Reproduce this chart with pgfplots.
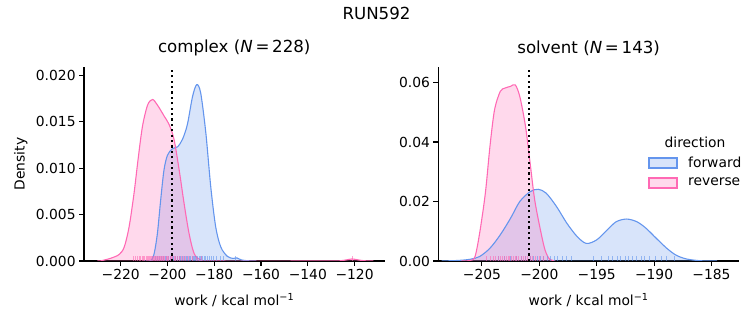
\documentclass[border=0pt]{standalone}
\usepackage{pgfplots}
\pgfplotsset{compat=1.18}
\usepackage{pgfplotstable}
\usepackage{fontspec}
\setmainfont{DejaVu Sans}
\definecolor{fwd}{HTML}{6495ED}
\definecolor{rev}{HTML}{FF69B4}

% KDE curves, complex
\pgfplotstableread{
x y
-230.0 0
-228.5 0.00002
-224.2 0.0003
-220.7 0.0007
-218.5 0.0015
-216.4 0.0037
-214.3 0.0073
-212.6 0.0109
-210.7 0.0145
-208.5 0.0168
-206.4 0.0174
-204.3 0.0168
-201.4 0.0156
-199.3 0.0147
-197.2 0.0131
-195.0 0.0098
-192.9 0.0062
-190.8 0.0030
-188.6 0.0008
-185.8 0.0001
-182.0 0
-130.0 0
-126.0 0.00003
-123.5 0.00012
-121.0 0.00022
-118.5 0.00012
-116.0 0.00003
-112.0 0
}\comprev
\pgfplotstableread{
x y
-210.0 0
-207.1 0.00005
-205.7 0.0008
-204.3 0.0030
-202.9 0.0066
-201.5 0.0098
-200.0 0.0114
-197.9 0.0121
-195.7 0.0123
-193.6 0.0131
-191.5 0.0147
-189.3 0.0177
-187.5 0.0190
-185.8 0.0181
-183.6 0.0138
-181.5 0.0080
-179.4 0.0037
-177.2 0.0015
-174.4 0.0005
-172.0 0.00028
-170.3 0.00033
-168.5 0.00012
-165.8 0.00003
-162.0 0
}\compfwd
% KDE curves, solvent
\pgfplotstableread{
x y
-206.8 0
-206.0 0.0002
-205.6 0.0015
-205.2 0.0093
-204.7 0.0228
-204.3 0.0385
-203.9 0.0508
-203.4 0.0570
-203.0 0.0581
-202.5 0.0587
-202.1 0.0592
-201.7 0.0553
-201.2 0.0452
-200.8 0.0329
-200.4 0.0205
-199.9 0.0104
-199.5 0.0037
-199.1 0.0006
-198.6 0
}\solvrev
\pgfplotstableread{
x y
-208.5 0
-207.0 0.0002
-206.0 0.0006
-205.2 0.0015
-204.3 0.0043
-203.4 0.0088
-202.5 0.0144
-201.7 0.0200
-200.8 0.0233
-200.1 0.0241
-199.4 0.0228
-198.5 0.0183
-197.6 0.0127
-196.7 0.0082
-195.9 0.0059
-195.0 0.0071
-194.1 0.0104
-193.3 0.0132
-192.4 0.0141
-191.5 0.0132
-190.7 0.0110
-189.8 0.0076
-188.9 0.0043
-188.1 0.0020
-187.2 0.0007
-186.0 0.0001
-184.5 0
}\solvfwd

\pgfplotsset{
  myaxis/.style={
    scale only axis,
    height=194bp,
    axis x line*=bottom,
    axis y line*=left,
    axis line style={line width=1.1bp, black, -},
    every tick/.style={black, line width=1.1bp},
    major tick length=4.9bp,
    tick align=outside,
    scaled y ticks=false,
    scaled x ticks=false,
    ticklabel style={font=\fontsize{13.9}{16}\selectfont},
    label style={font=\fontsize{13.9}{16}\selectfont},
    title style={font=\fontsize{16.7}{19}\selectfont, at={(axis description cs:0.5,1.067)}, anchor=center},
    xlabel style={at={(axis description cs:0.5,-0.20)}, anchor=center},
    clip=true,
  },
  kdefill/.style={draw=none, fill=#1, fill opacity=0.25, smooth, tension=0.5},
  kdeline/.style={draw=#1, line width=1.1bp, smooth, tension=0.5},
  rug/.style={draw=#1, draw opacity=0.6, line width=0.8bp, ycomb, mark=none},
}

\begin{document}
\begin{tikzpicture}
\path[use as bounding box] (0,0) rectangle (753bp,325bp);
\node[font=\fontsize{16.7}{19}\selectfont] at (376.5bp,312bp) {RUN592};

% ---------------- complex ----------------
\begin{axis}[myaxis,
  at={(84bp,64bp)}, anchor=south west, width=300.5bp,
  xmin=-235.7, xmax=-107.2, ymin=0, ymax=0.0209,
  xtick={-220,-200,-180,-160,-140,-120},
  xticklabels={−220,−200,−180,−160,−140,−120},
  ytick={0,0.005,0.01,0.015,0.02},
  yticklabels={0.000,0.005,0.010,0.015,0.020},
  title={complex (\textit{N}\,=\,228)},
  xlabel={work / kcal mol\textsuperscript{−1}},
  ylabel={Density},
  ylabel style={at={(axis description cs:-0.21,0.5)}, anchor=center, rotate=0},
]
\addplot[kdefill=fwd] table {\compfwd} \closedcycle;
\addplot[kdefill=rev] table {\comprev} \closedcycle;
\addplot[kdeline=fwd] table {\compfwd};
\addplot[kdeline=rev] table {\comprev};
% rug (forward)
\addplot[rug=fwd] coordinates {
(-206.3,0.00052)(-205.1,0.00052)(-204.2,0.00052)(-203.3,0.00052)(-202.5,0.00052)(-201.8,0.00052)(-201.0,0.00052)(-200.3,0.00052)(-199.6,0.00052)(-198.8,0.00052)(-198.1,0.00052)(-197.3,0.00052)(-196.5,0.00052)(-195.8,0.00052)(-195.0,0.00052)(-194.3,0.00052)(-193.5,0.00052)(-192.8,0.00052)(-192.0,0.00052)(-191.3,0.00052)(-190.6,0.00052)(-190.0,0.00052)(-189.4,0.00052)(-188.9,0.00052)(-188.4,0.00052)(-187.9,0.00052)(-187.5,0.00052)(-187.0,0.00052)(-186.5,0.00052)(-186.0,0.00052)(-185.5,0.00052)(-184.9,0.00052)(-184.3,0.00052)(-183.6,0.00052)(-182.9,0.00052)(-182.1,0.00052)(-181.2,0.00052)(-180.2,0.00052)(-179.0,0.00052)(-177.5,0.00052)(-175.9,0.00052)(-170.8,0.00052)};
% rug (reverse)
\addplot[rug=rev] coordinates {
(-214.6,0.00052)(-213.8,0.00052)(-212.9,0.00052)(-212.2,0.00052)(-211.5,0.00052)(-210.9,0.00052)(-210.3,0.00052)(-209.8,0.00052)(-209.2,0.00052)(-208.7,0.00052)(-208.3,0.00052)(-207.9,0.00052)(-207.4,0.00052)(-207.0,0.00052)(-206.6,0.00052)(-206.2,0.00052)(-205.8,0.00052)(-205.3,0.00052)(-204.9,0.00052)(-204.4,0.00052)(-204.0,0.00052)(-203.5,0.00052)(-203.1,0.00052)(-202.6,0.00052)(-202.1,0.00052)(-201.7,0.00052)(-201.2,0.00052)(-200.6,0.00052)(-200.1,0.00052)(-199.5,0.00052)(-198.9,0.00052)(-198.4,0.00052)(-197.8,0.00052)(-197.1,0.00052)(-196.5,0.00052)(-195.8,0.00052)(-195.0,0.00052)(-194.1,0.00052)(-193.2,0.00052)(-192.3,0.00052)(-191.0,0.00052)(-189.5,0.00052)(-187.8,0.00052)(-185.5,0.00052)(-121.0,0.00052)};
% mean line
\addplot[black, line width=2.1bp, dash pattern=on 2.1bp off 3.3bp] coordinates {(-197.9,0) (-197.9,0.0209)};
\end{axis}

% ---------------- solvent ----------------
\begin{axis}[myaxis,
  at={(438.3bp,64bp)}, anchor=south west, width=300.7bp,
  xmin=-208.8, xmax=-182.6, ymin=0, ymax=0.0652,
  xtick={-205,-200,-195,-190,-185},
  xticklabels={−205,−200,−195,−190,−185},
  ytick={0,0.02,0.04,0.06},
  yticklabels={0.00,0.02,0.04,0.06},
  title={solvent (\textit{N}\,=\,143)},
  xlabel={work / kcal mol\textsuperscript{−1}},
]
\addplot[kdefill=fwd] table {\solvfwd} \closedcycle;
\addplot[kdefill=rev] table {\solvrev} \closedcycle;
\addplot[kdeline=fwd] table {\solvfwd};
\addplot[kdeline=rev] table {\solvrev};
\addplot[rug=fwd] coordinates {
(-203.6,0.00163)(-203.0,0.00163)(-202.5,0.00163)(-202.0,0.00163)(-201.6,0.00163)(-201.2,0.00163)(-200.8,0.00163)(-200.5,0.00163)(-200.2,0.00163)(-199.9,0.00163)(-199.6,0.00163)(-199.3,0.00163)(-199.0,0.00163)(-198.7,0.00163)(-198.4,0.00163)(-198.0,0.00163)(-197.6,0.00163)(-197.2,0.00163)(-195.3,0.00163)(-194.6,0.00163)(-194.0,0.00163)(-193.6,0.00163)(-193.2,0.00163)(-192.9,0.00163)(-192.5,0.00163)(-192.2,0.00163)(-191.9,0.00163)(-191.5,0.00163)(-191.1,0.00163)(-190.8,0.00163)(-190.4,0.00163)(-189.9,0.00163)(-189.4,0.00163)(-188.9,0.00163)(-188.2,0.00163)};
\addplot[rug=rev] coordinates {
(-204.6,0.00163)(-204.3,0.00163)(-204.0,0.00163)(-203.8,0.00163)(-203.6,0.00163)(-203.4,0.00163)(-203.2,0.00163)(-203.0,0.00163)(-202.9,0.00163)(-202.7,0.00163)(-202.6,0.00163)(-202.4,0.00163)(-202.3,0.00163)(-202.1,0.00163)(-202.0,0.00163)(-201.8,0.00163)(-201.6,0.00163)(-201.4,0.00163)(-201.2,0.00163)(-201.0,0.00163)(-200.8,0.00163)(-200.6,0.00163)(-200.3,0.00163)(-200.0,0.00163)(-199.6,0.00163)};
\addplot[black, line width=2.1bp, dash pattern=on 2.1bp off 3.3bp] coordinates {(-200.9,0) (-200.9,0.0652)};
\end{axis}

% ---------------- legend ----------------
\node[font=\fontsize{13.9}{16}\selectfont, inner sep=0] at (695bp,183bp) {direction};
\filldraw[draw=fwd, line width=1.1bp, fill=fwd, fill opacity=0.25, draw opacity=1] (649bp,157bp) rectangle (677bp,167bp);
\filldraw[draw=rev, line width=1.1bp, fill=rev, fill opacity=0.25, draw opacity=1] (649bp,137bp) rectangle (677bp,147bp);
\node[font=\fontsize{13.9}{16}\selectfont, anchor=west, inner sep=0] at (688bp,163bp) {forward};
\node[font=\fontsize{13.9}{16}\selectfont, anchor=west, inner sep=0] at (688bp,143bp) {reverse};
\end{tikzpicture}
\end{document}
